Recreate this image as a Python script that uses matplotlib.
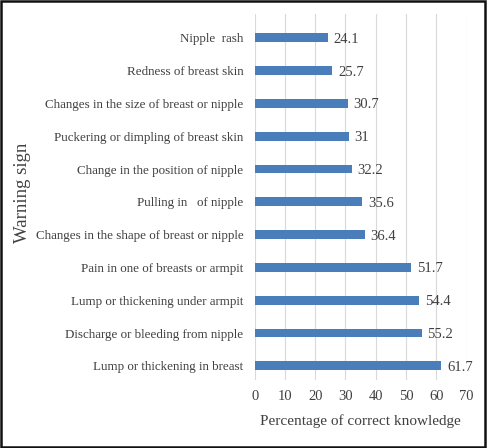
import matplotlib
matplotlib.use("Agg")
import matplotlib.pyplot as plt
from matplotlib.patches import Rectangle

categories = [
    "Lump or thickening in breast",
    "Discharge or bleeding from nipple",
    "Lump or thickening under armpit",
    "Pain in one of breasts or armpit",
    "Changes in the shape of breast or nipple",
    "Pulling in   of nipple",
    "Change in the position of nipple",
    "Puckering or dimpling of breast skin",
    "Changes in the size of breast or nipple",
    "Redness of breast skin",
    "Nipple  rash",
]
values = [61.7, 55.2, 54.4, 51.7, 36.4, 35.6, 32.2, 31, 30.7, 25.7, 24.1]
value_labels = ["61.7", "55.2", "54.4", "51.7", "36.4", "35.6", "32.2", "31", "30.7", "25.7", "24.1"]
xticks = [0, 10, 20, 30, 40, 50, 60, 70]

plt.rcParams['font.family'] = ['Liberation Serif', 'DejaVu Serif']
text_color = "#404040"

fig = plt.figure(figsize=(4.87, 4.48), dpi=100)
ax = fig.add_axes([0.523, 0.152, 0.435, 0.817])

pos = list(range(len(categories)))
ax.barh(pos, values, height=0.27, color="#4A7EBB", zorder=3)
for p, v, lab in zip(pos, values, value_labels):
    ax.annotate(lab, xy=(v, p), xytext=(4, -1), textcoords="offset points",
                va="center", ha="left", fontsize=10.5, color=text_color)

ax.set_xlim(0, 70)
ax.set_ylim(-0.43, 10.73)
ax.set_xticks(xticks)
ax.set_xticklabels([str(t) for t in xticks], fontsize=10.5, color=text_color)
ax.set_yticks(pos)
ax.set_yticklabels(categories, fontsize=9.4, color=text_color)
ax.tick_params(axis='x', length=0, pad=7)
ax.tick_params(axis='y', length=0, pad=8)
ax.grid(axis='x', color="#D9D9D9", linewidth=0.8, zorder=0)
for s in ax.spines.values():
    s.set_visible(False)

ax.set_xlabel("Percentage of correct knowledge", fontsize=11, color=text_color, labelpad=8)
fig.text(0.047, 0.57, "Warning sign", rotation=90, fontsize=13.5, color=text_color,
         ha="center", va="center")

fig.patches.append(Rectangle((0.002, 0.003), 0.994, 0.994, transform=fig.transFigure,
                             fill=False, edgecolor="#111111", linewidth=1.8))

fig.savefig("out.png", dpi=100)
